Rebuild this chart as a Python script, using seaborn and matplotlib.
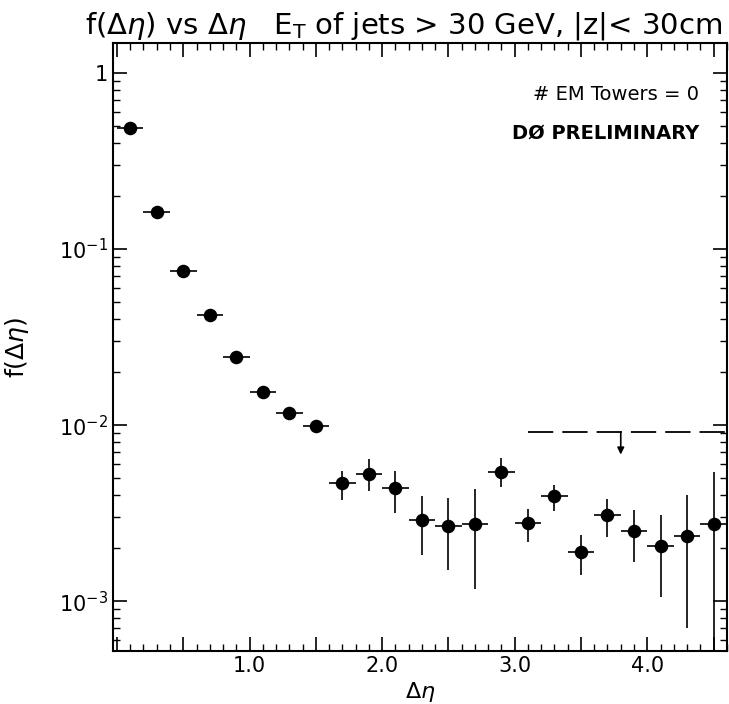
import numpy as np
import pandas as pd
import matplotlib
matplotlib.use("Agg")
import matplotlib.pyplot as plt
import seaborn as sns
from matplotlib.ticker import MultipleLocator, LogLocator, FixedLocator, FixedFormatter, NullFormatter

# ---- data ----
deta = [0.1, 0.3, 0.5, 0.7, 0.9, 1.1, 1.3, 1.5, 1.7, 1.9, 2.1, 2.3,
        2.5, 2.7, 2.9, 3.1, 3.3, 3.5, 3.7, 3.9, 4.1, 4.3, 4.5]
f_val = [0.485, 0.163, 0.075, 0.042, 0.0243, 0.0154, 0.0117, 0.0099,
         0.0047, 0.0053, 0.00437, 0.00288, 0.00269, 0.00276, 0.00543,
         0.00279, 0.00396, 0.0019, 0.00308, 0.0025, 0.00206, 0.00235, 0.00274]
f_hi = [0.50, 0.168, 0.078, 0.0435, 0.0252, 0.0162, 0.0125, 0.0106,
        0.0055, 0.00638, 0.00548, 0.00395, 0.00385, 0.00431, 0.00647,
        0.00334, 0.00456, 0.00237, 0.0038, 0.00329, 0.00308, 0.0040, 0.00543]
f_lo = [0.47, 0.158, 0.072, 0.0405, 0.0234, 0.0146, 0.0109, 0.0092,
        0.00378, 0.00423, 0.00318, 0.00182, 0.0015, 0.00118, 0.00443,
        0.00217, 0.00325, 0.00141, 0.00232, 0.00167, 0.00105, 0.0007, 0.0001]
bin_half = 0.1
limit_x = [3.1, 4.6]
limit_y = 0.00916
arrow_x = 3.8
arrow_to = 0.0068
x_labels = ["", "", "1.0", "", "2.0", "", "3.0", "", "4.0", ""]
y_labels = [r"$10^{-3}$", r"$10^{-2}$", r"$10^{-1}$", "1"]

df = pd.DataFrame({"deta": deta, "f": f_val, "hi": f_hi, "lo": f_lo})

sns.set_theme(style="ticks")
plt.rcParams['font.family'] = ['DejaVu Sans']
plt.rcParams['text.color'] = 'black'
plt.rcParams['axes.labelcolor'] = 'black'

fig = plt.figure(figsize=(7.29, 7.04), dpi=100)
ax = fig.add_axes([0.155, 0.075, 0.842, 0.864])

yerr = np.vstack([df["f"] - df["lo"], df["hi"] - df["f"]])
ax.errorbar(df["deta"], df["f"], xerr=bin_half, yerr=yerr, fmt="none",
            ecolor="black", elinewidth=1.2, capsize=0, zorder=2)
sns.scatterplot(data=df, x="deta", y="f", ax=ax, color="black", s=95,
                edgecolor="black", linewidth=0, zorder=3, legend=False)

ax.plot(limit_x, [limit_y, limit_y], color="black", lw=1.3,
        dashes=(14, 5), zorder=2)
ax.annotate("", xy=(arrow_x, arrow_to), xytext=(arrow_x, limit_y),
            arrowprops=dict(arrowstyle="-|>", color="black", lw=1.2,
                            mutation_scale=10, shrinkA=0, shrinkB=0))

ax.set_yscale("log")
ax.set_xlim(-0.03, 4.6)
ax.set_ylim(5.2e-4, 1.48)

ax.set_xticks(np.arange(0, 4.61, 0.5))
ax.set_xticklabels(x_labels)
ax.xaxis.set_minor_locator(MultipleLocator(0.1))

ax.yaxis.set_major_locator(FixedLocator([1e-3, 1e-2, 1e-1, 1]))
ax.yaxis.set_major_formatter(FixedFormatter(y_labels))
ax.yaxis.set_minor_locator(LogLocator(base=10, subs=np.arange(2, 10)))
ax.yaxis.set_minor_formatter(NullFormatter())

ax.tick_params(which="both", direction="in", top=True, right=True,
               colors="black", labelsize=15)
ax.tick_params(which="major", length=10, width=1.2)
ax.tick_params(which="minor", length=5, width=1.0)
for s in ax.spines.values():
    s.set_linewidth(1.5)
    s.set_color("black")

ax.set_xlabel(r"$\Delta\eta$", fontsize=16)
ax.xaxis.set_label_coords(0.5, -0.047)
ax.set_ylabel(r"f($\Delta\eta$)", fontsize=18, labelpad=20)
fig.text(0.117, 0.963, r"f($\Delta\eta$) vs $\Delta\eta$   E$_{\rm T}$ of jets > 30 GeV, |z|< 30cm",
         fontsize=21, ha="left", va="center")

ax.text(0.955, 0.915, "# EM Towers = 0", transform=ax.transAxes, fontsize=14,
        ha="right", va="center")
ax.text(0.955, 0.852, "DØ PRELIMINARY", transform=ax.transAxes, fontsize=14,
        fontweight="bold", ha="right", va="center")

fig.savefig("out.png", dpi=100, facecolor="white")
